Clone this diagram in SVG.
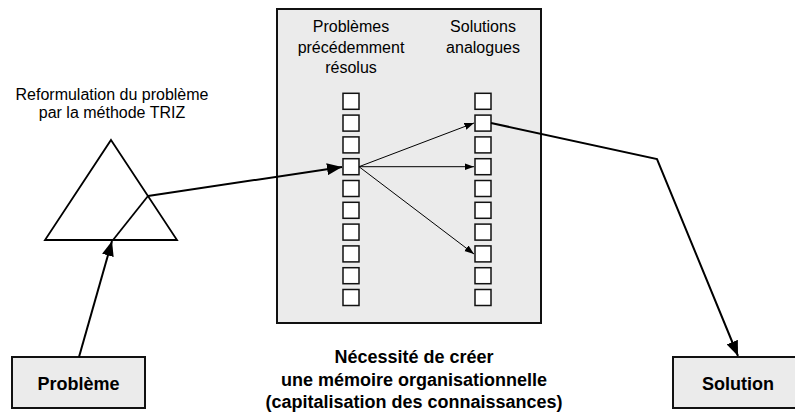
<svg xmlns="http://www.w3.org/2000/svg" width="795" height="413" viewBox="0 0 795 413">
<style>
.t{font-family:"Liberation Sans",Arial,sans-serif;fill:#000;text-anchor:middle}
.n{font-size:16px}
.b{font-size:18px;font-weight:bold}
.sq{fill:#fff;stroke:#111;stroke-width:1.5}
.box{fill:#ebebeb;stroke:#111;stroke-width:2}
.tri{fill:none;stroke:#000;stroke-width:1.8;stroke-linejoin:miter}
.thick{fill:none;stroke:#000;stroke-width:2}
.thin{fill:none;stroke:#000;stroke-width:1}
</style>
<defs>
<marker id="big" markerUnits="userSpaceOnUse" markerWidth="16" markerHeight="12" viewBox="0 0 16 12" refX="15" refY="6" orient="auto"><path d="M0,0 L15,6 L0,12 Z" fill="#000"/></marker>
<marker id="small" markerUnits="userSpaceOnUse" markerWidth="10" markerHeight="8" viewBox="0 0 10 8" refX="9.5" refY="4" orient="auto"><path d="M0,0.5 L9.5,4 L0,7.5 Z" fill="#000"/></marker>
</defs>

<g id="memoire">
<rect class="box" x="277" y="9" width="264" height="314"/>
<text class="t n" x="351" y="32">Problèmes</text>
<text class="t n" x="351" y="53">précédemment</text>
<text class="t n" x="351" y="73">résolus</text>
<text class="t n" x="483" y="32">Solutions</text>
<text class="t n" x="483" y="53">analogues</text>
</g>

<g id="problemes-resolus">
<rect class="sq" x="343" y="93.3" width="16" height="16"/>
<rect class="sq" x="343" y="115.1" width="16" height="16"/>
<rect class="sq" x="343" y="136.9" width="16" height="16"/>
<rect class="sq" x="343" y="158.7" width="16" height="16"/>
<rect class="sq" x="343" y="180.5" width="16" height="16"/>
<rect class="sq" x="343" y="202.3" width="16" height="16"/>
<rect class="sq" x="343" y="224.1" width="16" height="16"/>
<rect class="sq" x="343" y="245.9" width="16" height="16"/>
<rect class="sq" x="343" y="267.7" width="16" height="16"/>
<rect class="sq" x="343" y="289.5" width="16" height="16"/>
</g>

<g id="solutions-analogues">
<rect class="sq" x="475" y="93.3" width="16" height="16"/>
<rect class="sq" x="475" y="115.1" width="16" height="16"/>
<rect class="sq" x="475" y="136.9" width="16" height="16"/>
<rect class="sq" x="475" y="158.7" width="16" height="16"/>
<rect class="sq" x="475" y="180.5" width="16" height="16"/>
<rect class="sq" x="475" y="202.3" width="16" height="16"/>
<rect class="sq" x="475" y="224.1" width="16" height="16"/>
<rect class="sq" x="475" y="245.9" width="16" height="16"/>
<rect class="sq" x="475" y="267.7" width="16" height="16"/>
<rect class="sq" x="475" y="289.5" width="16" height="16"/>
</g>

<g id="triz">
<text class="t n" x="112" y="100">Reformulation du problème</text>
<text class="t n" x="112" y="118">par la méthode TRIZ</text>
<path class="tri" d="M111,140 L177,240 L45,240 Z"/>
<path class="tri" d="M113,240 L148,196"/>
</g>

<g id="probleme">
<rect class="box" x="12" y="357" width="133" height="51"/>
<text class="t b" x="78.5" y="390">Problème</text>
</g>

<g id="solution">
<rect class="box" x="673" y="357" width="133" height="51"/>
<text class="t b" x="738" y="390">Solution</text>
</g>

<g id="note">
<text class="t b" x="414" y="363">Nécessité de créer</text>
<text class="t b" x="414" y="386">une mémoire organisationnelle</text>
<text class="t b" x="414" y="408">(capitalisation des connaissances)</text>
</g>

<g id="connectors">
<path class="thick" d="M79,357 L112,241" marker-end="url(#big)"/>
<path class="thick" d="M148,196 L342,167" marker-end="url(#big)"/>
<path class="thin" d="M359,166.7 L474,123" marker-end="url(#small)"/>
<path class="thin" d="M359,166.7 L474,166.7" marker-end="url(#small)"/>
<path class="thin" d="M359,166.7 L474,254" marker-end="url(#small)"/>
<path class="thick" d="M491,123 L657,159 L738,356" marker-end="url(#big)"/>
</g>
</svg>
